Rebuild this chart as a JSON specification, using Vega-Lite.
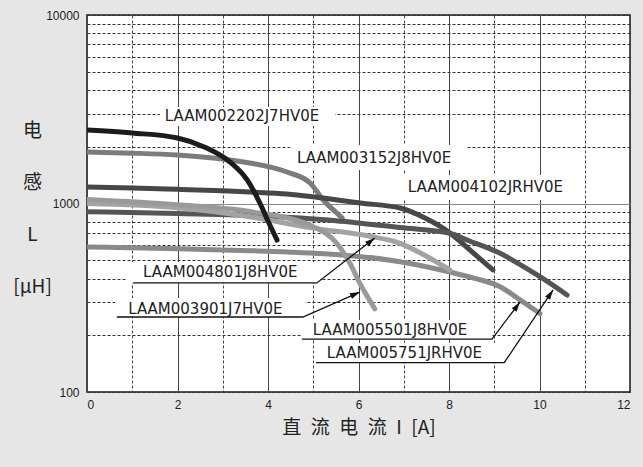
{
  "$schema": "https://vega.github.io/schema/vega-lite/v6.json",
  "width": 543,
  "height": 377,
  "autosize": {"type": "none"},
  "padding": {"left": 87, "top": 15, "right": 13, "bottom": 75},
  "background": "#e6e6e6",
  "config": {
    "view": {"fill": "white", "stroke": "#1a1a1a", "strokeWidth": 1.5}
  },
  "datasets": {
    "curves": [
      {"s": "LAAM003152J8HV0E", "x": 0, "L": 1877},
      {"s": "LAAM003152J8HV0E", "x": 1, "L": 1850},
      {"s": "LAAM003152J8HV0E", "x": 2, "L": 1807},
      {"s": "LAAM003152J8HV0E", "x": 3, "L": 1720},
      {"s": "LAAM003152J8HV0E", "x": 3.6, "L": 1640},
      {"s": "LAAM003152J8HV0E", "x": 4.42, "L": 1469},
      {"s": "LAAM003152J8HV0E", "x": 4.93, "L": 1285},
      {"s": "LAAM003152J8HV0E", "x": 5.22, "L": 1044},
      {"s": "LAAM003152J8HV0E", "x": 5.52, "L": 890},
      {"s": "LAAM003152J8HV0E", "x": 5.64, "L": 837},
      {"s": "LAAM004102JRHV0E", "x": 0, "L": 1224},
      {"s": "LAAM004102JRHV0E", "x": 1, "L": 1210},
      {"s": "LAAM004102JRHV0E", "x": 2, "L": 1190},
      {"s": "LAAM004102JRHV0E", "x": 3, "L": 1168},
      {"s": "LAAM004102JRHV0E", "x": 3.6, "L": 1151},
      {"s": "LAAM004102JRHV0E", "x": 4.42, "L": 1123},
      {"s": "LAAM004102JRHV0E", "x": 5, "L": 1085},
      {"s": "LAAM004102JRHV0E", "x": 6.03, "L": 1006},
      {"s": "LAAM004102JRHV0E", "x": 6.92, "L": 946},
      {"s": "LAAM004102JRHV0E", "x": 7.47, "L": 837},
      {"s": "LAAM004102JRHV0E", "x": 8.02, "L": 698},
      {"s": "LAAM004102JRHV0E", "x": 8.46, "L": 567},
      {"s": "LAAM004102JRHV0E", "x": 8.97, "L": 444},
      {"s": "LAAM005751JRHV0E", "x": 0, "L": 905},
      {"s": "LAAM005751JRHV0E", "x": 2, "L": 885},
      {"s": "LAAM005751JRHV0E", "x": 3.6, "L": 865},
      {"s": "LAAM005751JRHV0E", "x": 4.42, "L": 845},
      {"s": "LAAM005751JRHV0E", "x": 5.5, "L": 810},
      {"s": "LAAM005751JRHV0E", "x": 6.92, "L": 745},
      {"s": "LAAM005751JRHV0E", "x": 8.02, "L": 695},
      {"s": "LAAM005751JRHV0E", "x": 8.4, "L": 640},
      {"s": "LAAM005751JRHV0E", "x": 9.13, "L": 544},
      {"s": "LAAM005751JRHV0E", "x": 9.6, "L": 470},
      {"s": "LAAM005751JRHV0E", "x": 10.01, "L": 409},
      {"s": "LAAM005751JRHV0E", "x": 10.61, "L": 327},
      {"s": "LAAM005501J8HV0E", "x": 0, "L": 588},
      {"s": "LAAM005501J8HV0E", "x": 2, "L": 575},
      {"s": "LAAM005501J8HV0E", "x": 3.6, "L": 562},
      {"s": "LAAM005501J8HV0E", "x": 4.42, "L": 553},
      {"s": "LAAM005501J8HV0E", "x": 6.92, "L": 491},
      {"s": "LAAM005501J8HV0E", "x": 8.02, "L": 433},
      {"s": "LAAM005501J8HV0E", "x": 8.57, "L": 401},
      {"s": "LAAM005501J8HV0E", "x": 9.13, "L": 362},
      {"s": "LAAM005501J8HV0E", "x": 9.57, "L": 308},
      {"s": "LAAM005501J8HV0E", "x": 10.01, "L": 261},
      {"s": "LAAM004801J8HV0E", "x": 0, "L": 1000},
      {"s": "LAAM004801J8HV0E", "x": 2, "L": 950},
      {"s": "LAAM004801J8HV0E", "x": 3.6, "L": 851},
      {"s": "LAAM004801J8HV0E", "x": 5, "L": 740},
      {"s": "LAAM004801J8HV0E", "x": 6.25, "L": 670},
      {"s": "LAAM004801J8HV0E", "x": 6.92, "L": 615},
      {"s": "LAAM004801J8HV0E", "x": 7.47, "L": 530},
      {"s": "LAAM004801J8HV0E", "x": 8.02, "L": 444},
      {"s": "LAAM003901J7HV0E", "x": 0, "L": 1050},
      {"s": "LAAM003901J7HV0E", "x": 2, "L": 985},
      {"s": "LAAM003901J7HV0E", "x": 3.6, "L": 906},
      {"s": "LAAM003901J7HV0E", "x": 4.99, "L": 755},
      {"s": "LAAM003901J7HV0E", "x": 5.52, "L": 615},
      {"s": "LAAM003901J7HV0E", "x": 5.81, "L": 482},
      {"s": "LAAM003901J7HV0E", "x": 6.03, "L": 377},
      {"s": "LAAM003901J7HV0E", "x": 6.2, "L": 320},
      {"s": "LAAM003901J7HV0E", "x": 6.36, "L": 276},
      {"s": "LAAM002202J7HV0E", "x": 0, "L": 2455},
      {"s": "LAAM002202J7HV0E", "x": 1, "L": 2366},
      {"s": "LAAM002202J7HV0E", "x": 2, "L": 2226},
      {"s": "LAAM002202J7HV0E", "x": 2.59, "L": 1995},
      {"s": "LAAM002202J7HV0E", "x": 3.16, "L": 1660},
      {"s": "LAAM002202J7HV0E", "x": 3.54, "L": 1333},
      {"s": "LAAM002202J7HV0E", "x": 3.82, "L": 1006},
      {"s": "LAAM002202J7HV0E", "x": 4.02, "L": 788},
      {"s": "LAAM002202J7HV0E", "x": 4.2, "L": 640}
    ],
    "boxes": [
      {"name": "LAAM002202J7HV0E", "x": 1.61, "xe": 5.48, "L": 2577, "Le": 3251},
      {"name": "LAAM003152J8HV0E", "x": 4.5, "xe": 8.4, "L": 1506, "Le": 2044},
      {"name": "LAAM004102JRHV0E", "x": 6.92, "xe": 10.78, "L": 1044, "Le": 1416},
      {"name": "LAAM004801J8HV0E", "x": 0.88, "xe": 5.15, "L": 379, "Le": 489},
      {"name": "LAAM003901J7HV0E", "x": 0.62, "xe": 4.82, "L": 250, "Le": 315},
      {"name": "LAAM005501J8HV0E", "x": 4.75, "xe": 8.95, "L": 191, "Le": 241},
      {"name": "LAAM005751JRHV0E", "x": 5.06, "xe": 9.22, "L": 143, "Le": 182}
    ],
    "labels": [
      {"name": "LAAM002202J7HV0E", "x": 1.72, "L": 2911},
      {"name": "LAAM003152J8HV0E", "x": 4.64, "L": 1743},
      {"name": "LAAM004102JRHV0E", "x": 7.09, "L": 1223},
      {"name": "LAAM004801J8HV0E", "x": 1.24, "L": 433},
      {"name": "LAAM003901J7HV0E", "x": 0.91, "L": 276},
      {"name": "LAAM005501J8HV0E", "x": 4.99, "L": 213},
      {"name": "LAAM005751JRHV0E", "x": 5.3, "L": 161}
    ],
    "leaders": [
      {"name": "LAAM004801J8HV0E", "o": 1, "x": 1.02, "L": 379},
      {"name": "LAAM004801J8HV0E", "o": 2, "x": 5.08, "L": 379},
      {"name": "LAAM004801J8HV0E", "o": 3, "x": 6.36, "L": 656},
      {"name": "LAAM003901J7HV0E", "o": 1, "x": 0.66, "L": 250},
      {"name": "LAAM003901J7HV0E", "o": 2, "x": 4.77, "L": 250},
      {"name": "LAAM003901J7HV0E", "o": 3, "x": 6.03, "L": 339},
      {"name": "LAAM005501J8HV0E", "o": 1, "x": 4.75, "L": 191},
      {"name": "LAAM005501J8HV0E", "o": 2, "x": 8.95, "L": 191},
      {"name": "LAAM005501J8HV0E", "o": 3, "x": 9.57, "L": 300},
      {"name": "LAAM005751JRHV0E", "o": 1, "x": 5.06, "L": 143},
      {"name": "LAAM005751JRHV0E", "o": 2, "x": 9.22, "L": 143},
      {"name": "LAAM005751JRHV0E", "o": 3, "x": 10.3, "L": 348}
    ],
    "tips": [
      {"name": "LAAM004801J8HV0E", "x": 6.36, "L": 656},
      {"name": "LAAM003901J7HV0E", "x": 6.03, "L": 339},
      {"name": "LAAM005501J8HV0E", "x": 9.57, "L": 300},
      {"name": "LAAM005751JRHV0E", "x": 10.3, "L": 348}
    ]
  },
  "encoding": {
    "x": {
      "field": "x",
      "type": "quantitative",
      "scale": {"domain": [0, 12], "nice": false, "zero": false},
      "axis": {
        "values": [0, 1, 2, 3, 4, 5, 6, 7, 8, 9, 10, 11, 12],
        "labelExpr": "datum.value % 2 == 0 ? datum.label : ''",
        "labelOverlap": false,
        "grid": true,
        "gridColor": "#444",
        "gridWidth": 1,
        "gridDash": {"condition": {"test": "datum.value % 2 == 1", "value": [3, 2]}, "value": []},
        "ticks": false,
        "domain": false,
        "labelPadding": 7,
        "labelFont": "Liberation Sans",
        "labelFontSize": 12,
        "labelColor": "#222",
        "title": "直\u2002流\u2002电\u2002流\u2002I\u2002[A]",
        "titleFont": "Noto Sans CJK SC",
        "titleFontSize": 19,
        "titleFontWeight": "normal",
        "titleColor": "#222",
        "titlePadding": 8
      }
    },
    "y": {
      "field": "L",
      "type": "quantitative",
      "scale": {"type": "log", "domain": [100, 10000], "nice": false},
      "axis": {
        "values": [100, 200, 300, 400, 500, 600, 700, 800, 900, 1000, 2000, 3000, 4000, 5000, 6000, 7000, 8000, 9000, 10000],
        "labelExpr": "datum.value == 100 || datum.value == 1000 || datum.value == 10000 ? format(datum.value, 'd') : ''",
        "labelOverlap": false,
        "grid": true,
        "gridColor": {"condition": {"test": "datum.value == 1000", "value": "#8a8a8a"}, "value": "#333"},
        "gridWidth": 1,
        "gridDash": {"condition": {"test": "datum.value == 1000", "value": []}, "value": [3, 2]},
        "ticks": false,
        "domain": false,
        "labelPadding": 8,
        "labelFont": "Liberation Sans",
        "labelFontSize": 12,
        "labelColor": "#222",
        "title": ["电", "感", "L", "[μH]"],
        "titleAngle": 0,
        "titleAlign": "center",
        "titleBaseline": "top",
        "titleX": -55,
        "titleY": 106,
        "titleLineHeight": 52,
        "titleFont": "Noto Sans CJK SC",
        "titleFontSize": 19,
        "titleFontWeight": "normal",
        "titleColor": "#222"
      }
    }
  },
  "layer": [
    {
      "data": {"name": "boxes"},
      "mark": {"type": "rect", "fill": "white", "stroke": null},
      "encoding": {
        "x2": {"field": "xe"},
        "y2": {"field": "Le"}
      }
    },
    {
      "data": {"name": "curves"},
      "mark": {"type": "line", "strokeWidth": 5, "strokeCap": "round", "strokeJoin": "round", "interpolate": "monotone", "clip": true},
      "encoding": {
        "color": {
          "field": "s",
          "type": "nominal",
          "scale": {
            "domain": ["LAAM003152J8HV0E", "LAAM004102JRHV0E", "LAAM005751JRHV0E", "LAAM005501J8HV0E", "LAAM004801J8HV0E", "LAAM003901J7HV0E", "LAAM002202J7HV0E"],
            "range": ["#7c7c7c", "#474747", "#555555", "#8a8a8a", "#a3a3a3", "#9a9a9a", "#1c1c1c"]
          },
          "legend": null
        }
      }
    },
    {
      "data": {"name": "leaders"},
      "mark": {"type": "line", "color": "#111", "strokeWidth": 1.3},
      "encoding": {
        "detail": {"field": "name", "type": "nominal"},
        "order": {"field": "o", "type": "quantitative"}
      }
    },
    {
      "data": {"name": "tips"},
      "transform": [{"filter": "datum.name == 'LAAM004801J8HV0E'"}],
      "mark": {"type": "point", "shape": "M0,0L0.38,1.25L-0.38,1.25Z", "filled": true, "color": "#111", "opacity": 1, "size": 250, "angle": 52}
    },
    {
      "data": {"name": "tips"},
      "transform": [{"filter": "datum.name == 'LAAM003901J7HV0E'"}],
      "mark": {"type": "point", "shape": "M0,0L0.38,1.25L-0.38,1.25Z", "filled": true, "color": "#111", "opacity": 1, "size": 250, "angle": 66}
    },
    {
      "data": {"name": "tips"},
      "transform": [{"filter": "datum.name == 'LAAM005501J8HV0E'"}],
      "mark": {"type": "point", "shape": "M0,0L0.38,1.25L-0.38,1.25Z", "filled": true, "color": "#111", "opacity": 1, "size": 250, "angle": 37}
    },
    {
      "data": {"name": "tips"},
      "transform": [{"filter": "datum.name == 'LAAM005751JRHV0E'"}],
      "mark": {"type": "point", "shape": "M0,0L0.38,1.25L-0.38,1.25Z", "filled": true, "color": "#111", "opacity": 1, "size": 250, "angle": 34}
    },
    {
      "data": {"name": "labels"},
      "mark": {"type": "text", "align": "left", "baseline": "middle", "font": "DejaVu Sans", "fontSize": 15, "color": "#222"},
      "encoding": {
        "text": {"field": "name", "type": "nominal"}
      }
    }
  ]
}
